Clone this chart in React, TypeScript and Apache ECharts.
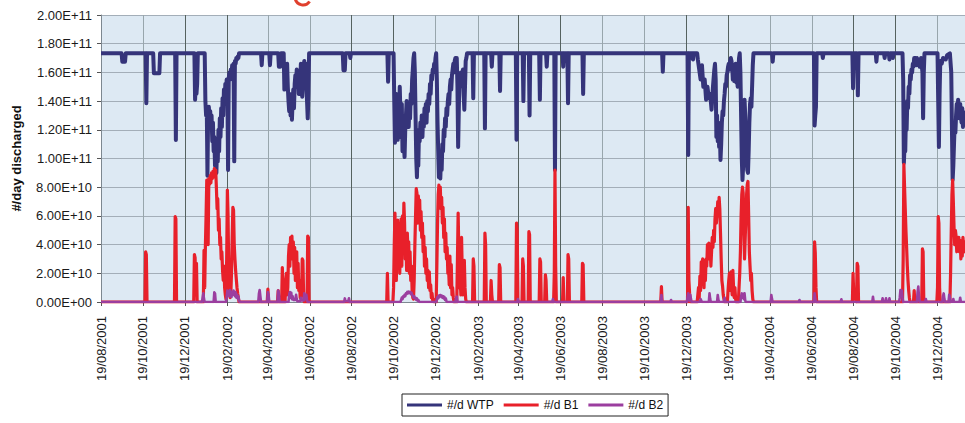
import React, { useEffect, useRef } from "react";
import * as echarts from "echarts";

// Daily discharge record, day 0 = 19/08/2001. Points are [day, #/day].
const START = Date.UTC(2001, 7, 19);
const DAY_MS = 86400000;
const LAST_DAY = 1258;

// Plant capacity plateau of the WTP discharge
const CAP = 1.733e11;

const SERIES_NAMES = ["#/d WTP", "#/d B1", "#/d B2"];

// Axis labels every two months on the 19th
const TICK_DATES: [number, number][] = [
  [2001, 8], [2001, 10], [2001, 12], [2002, 2], [2002, 4], [2002, 6], [2002, 8],
  [2002, 10], [2002, 12], [2003, 2], [2003, 4], [2003, 6], [2003, 8], [2003, 10],
  [2003, 12], [2004, 2], [2004, 4], [2004, 6], [2004, 8], [2004, 10], [2004, 12],
];

const wtp: [number, number][] = [
  [0, CAP], [30, CAP], [31, 1.675e11], [35, 1.675e11], [36, CAP],
  [65, CAP], [66, 1.385e11], [67, CAP],
  [76, CAP], [77, 1.594e11], [85, 1.594e11], [86, CAP],
  [108, CAP], [109, 1.129e11], [110, CAP],
  [136, CAP], [137, 1.41e11], [138, 1.55e11], [139, 1.45e11], [140, 1.52e11], [141, CAP],
  [151, CAP], [152, 1.40e11], [153, 1.30e11], [154, 1.36e11], [155, 0.88e11], [156, 1.32e11],
  [157, 1.36e11], [158, 1.28e11], [159, 1.33e11], [160, 1.22e11], [161, 1.30e11], [162, 1.12e11],
  [163, 1.25e11], [164, 1.05e11], [165, 1.15e11], [166, 0.95e11], [167, 1.08e11], [168, 0.90e11],
  [169, 1.10e11], [170, 0.98e11], [171, 1.20e11], [172, 1.05e11], [173, 1.28e11], [174, 1.15e11],
  [175, 1.35e11], [176, 1.22e11], [177, 1.42e11], [178, 1.30e11], [179, 1.48e11], [180, 1.38e11],
  [181, 1.52e11], [182, 1.45e11], [183, 1.55e11], [184, 1.50e11], [185, 0.92e11], [186, 1.56e11],
  [187, 1.60e11], [188, 1.55e11], [189, 1.62e11], [190, 1.58e11], [191, 1.65e11], [192, 1.60e11],
  [193, 1.66e11], [194, 0.98e11], [195, 1.68e11], [196, 1.66e11], [197, 1.70e11], [198, 1.69e11],
  [199, 1.71e11], [200, 1.70e11], [201, CAP],
  [233, CAP], [234, 1.65e11], [235, CAP],
  [245, CAP], [246, 1.65e11], [247, CAP],
  [258, CAP], [259, 1.64e11], [261, 1.64e11], [262, CAP],
  [266, CAP], [267, 1.48e11], [268, 1.62e11], [269, 1.55e11], [270, 1.63e11], [271, 1.66e11],
  [272, 1.50e11], [273, 1.40e11], [274, 1.33e11], [275, 1.45e11], [276, 1.30e11], [277, 1.36e11],
  [278, 1.27e11], [279, 1.40e11], [280, 1.48e11], [281, 1.35e11], [282, 1.52e11], [283, 1.58e11],
  [284, 1.50e11], [285, 1.62e11], [286, 1.55e11], [287, 1.60e11], [288, 1.45e11], [289, 1.58e11],
  [290, 1.52e11], [291, 1.66e11], [292, 1.62e11], [293, 1.43e11], [294, 1.55e11], [295, 1.64e11],
  [296, 1.68e11], [297, 1.60e11], [298, 1.66e11], [299, 1.50e11], [300, 1.40e11], [301, 1.28e11],
  [302, 1.45e11], [303, CAP],
  [352, CAP], [353, 1.615e11], [355, 1.615e11], [356, CAP],
  [362, CAP], [363, 1.70e11], [364, CAP],
  [417, CAP], [418, 1.535e11], [419, CAP],
  [426, CAP], [427, 1.40e11], [428, 1.11e11], [429, 1.30e11], [430, 1.45e11], [431, 1.20e11],
  [432, 1.13e11], [433, 1.35e11], [434, 1.25e11], [435, 1.50e11], [436, 1.30e11], [437, 1.15e11],
  [438, 1.38e11], [439, 1.05e11], [440, 1.25e11], [441, 1.10e11], [442, 1.01e11], [443, 1.20e11],
  [444, 1.30e11], [445, 1.40e11], [446, 1.25e11], [447, 1.34e11], [448, 1.22e11], [449, 1.35e11],
  [450, 1.28e11], [451, 1.45e11], [452, 1.38e11], [453, 1.55e11], [454, 1.62e11], [455, 1.70e11],
  [456, CAP], [457, 1.60e11], [458, 1.30e11], [459, 1.00e11], [460, 0.87e11], [461, 1.05e11],
  [462, 0.95e11], [463, 1.20e11], [464, 1.12e11], [465, 1.25e11], [466, 1.18e11], [467, 1.30e11],
  [468, 1.15e11], [469, 1.28e11], [470, 1.22e11], [471, 1.35e11], [472, 1.30e11], [473, 1.38e11],
  [474, 1.25e11], [475, 1.40e11], [476, 1.33e11], [477, 1.45e11], [478, 1.38e11], [479, 1.52e11],
  [480, 1.45e11], [481, 1.58e11], [482, 1.55e11], [483, 1.62e11], [484, 1.60e11], [485, 1.66e11],
  [486, 1.64e11], [487, 1.70e11], [488, CAP], [489, 1.55e11], [490, 1.25e11], [491, 1.05e11],
  [492, 0.87e11], [493, 0.90e11], [494, 0.86e11], [495, 1.00e11], [496, 0.92e11], [497, 1.10e11],
  [498, 1.05e11], [499, 1.20e11], [500, 1.15e11], [501, 1.28e11], [502, 1.22e11], [503, 1.35e11],
  [504, 1.30e11], [505, 1.40e11], [506, 1.45e11], [507, 1.38e11], [508, 1.50e11], [509, 1.55e11],
  [510, 1.48e11], [511, 1.58e11], [512, 1.62e11], [513, 1.66e11], [514, 1.60e11], [515, 1.68e11],
  [516, 1.70e11], [517, 1.64e11], [518, 1.70e11], [519, 1.50e11], [520, 1.08e11], [521, 1.35e11],
  [522, 1.55e11], [523, 1.50e11], [524, 1.60e11], [525, 1.52e11], [526, 1.58e11], [527, 1.62e11],
  [528, 1.45e11], [529, 1.34e11], [530, 1.50e11], [531, 1.68e11], [532, 1.70e11], [533, CAP],
  [541, CAP], [542, 1.42e11], [543, CAP],
  [558, CAP], [559, 1.21e11], [560, CAP],
  [568, CAP], [569, 1.64e11], [570, CAP],
  [580, CAP], [581, 1.47e11], [582, CAP],
  [604, CAP], [605, 1.13e11], [606, CAP],
  [614, CAP], [615, 1.40e11], [616, CAP],
  [623, CAP], [624, 1.30e11], [625, CAP],
  [638, CAP], [639, 1.41e11], [640, CAP],
  [648, CAP], [649, 1.64e11], [650, CAP],
  [660, CAP], [661, 0.92e11], [662, CAP],
  [672, CAP], [673, 1.64e11], [674, CAP],
  [679, CAP], [680, 1.385e11], [681, CAP],
  [701, CAP], [702, 1.45e11], [703, CAP],
  [817, CAP], [818, 1.605e11], [819, CAP],
  [854, CAP], [855, 1.024e11], [856, CAP], [857, 1.70e11], [858, CAP],
  [861, CAP], [862, 1.69e11], [863, CAP],
  [868, CAP], [869, 1.69e11], [871, 1.62e11], [873, 1.55e11], [875, 1.65e11], [877, 1.50e11],
  [879, 1.55e11], [881, 1.41e11], [883, 1.50e11], [885, 1.42e11], [887, 1.45e11], [889, 1.34e11],
  [891, 1.50e11], [893, 1.62e11], [894, 1.66e11], [895, 1.55e11], [896, 1.15e11], [897, 1.30e11],
  [898, 1.12e11], [899, 1.25e11], [900, 1.08e11], [901, 1.20e11], [902, 0.99e11], [903, 1.10e11],
  [904, 1.25e11], [905, 1.33e11], [906, 1.30e11], [907, 1.40e11], [908, 1.45e11], [909, 1.52e11],
  [910, 1.50e11], [911, 1.58e11], [912, 1.60e11], [913, 1.64e11], [914, 1.66e11], [915, 1.62e11],
  [916, 1.68e11], [917, 1.70e11], [918, 1.68e11], [919, 1.64e11], [920, 1.55e11], [921, 1.62e11],
  [922, 1.54e11], [923, 1.60e11], [924, 1.66e11], [925, 1.53e11], [926, 1.58e11], [927, 1.50e11],
  [928, 1.62e11], [929, 1.70e11], [930, CAP], [931, 1.60e11], [932, 1.30e11], [933, 1.00e11],
  [934, 0.85e11], [935, 0.95e11], [936, 1.20e11], [937, 1.41e11], [938, 1.30e11], [939, 1.15e11],
  [940, 1.00e11], [941, 0.92e11], [942, 0.90e11], [943, 1.05e11], [944, 1.25e11], [945, 1.38e11],
  [946, 1.42e11], [947, 1.36e11], [948, 1.50e11], [949, 1.65e11], [950, CAP],
  [977, CAP], [978, 1.675e11], [979, CAP],
  [1038, CAP], [1039, 1.23e11], [1040, 1.30e11], [1041, 1.36e11], [1042, CAP],
  [1050, CAP], [1051, 1.70e11], [1052, CAP],
  [1094, CAP], [1095, 1.49e11], [1096, CAP], [1101, CAP], [1102, 1.44e11], [1103, CAP],
  [1128, CAP], [1129, 1.675e11], [1130, CAP], [1140, CAP], [1141, 1.70e11], [1142, CAP],
  [1147, CAP], [1148, 1.69e11], [1149, CAP], [1152, CAP], [1153, 1.70e11], [1154, CAP],
  [1167, CAP], [1168, 1.55e11], [1169, 0.97e11], [1170, 1.10e11], [1171, 1.05e11], [1172, 1.30e11],
  [1173, 1.20e11], [1174, 1.40e11], [1175, 1.35e11], [1176, 1.50e11], [1177, 1.45e11], [1178, 1.58e11],
  [1179, 1.55e11], [1180, 1.62e11], [1181, 1.60e11], [1182, 1.66e11], [1183, 1.64e11], [1184, 1.70e11],
  [1186, 1.70e11], [1187, 1.65e11], [1188, 1.70e11], [1190, 1.68e11], [1192, 1.64e11], [1193, 1.66e11],
  [1194, 1.70e11], [1196, 1.60e11], [1197, 1.28e11], [1198, 1.60e11], [1199, CAP],
  [1218, CAP], [1219, 1.40e11], [1220, 1.08e11], [1221, 1.45e11], [1222, 1.68e11], [1224, 1.66e11],
  [1226, 1.70e11], [1230, 1.69e11], [1232, 1.72e11], [1236, CAP], [1238, 1.60e11], [1239, 1.20e11],
  [1240, 0.85e11], [1241, 0.95e11], [1242, 1.10e11], [1243, 1.25e11], [1244, 1.18e11], [1245, 1.30e11],
  [1246, 1.38e11], [1247, 1.30e11], [1248, 1.41e11], [1249, 1.35e11], [1250, 1.28e11], [1251, 1.38e11],
  [1252, 1.30e11], [1253, 1.25e11], [1254, 1.35e11], [1255, 1.22e11], [1256, 1.30e11], [1257, 1.25e11],
  [1258, 1.32e11], [1260, 1.28e11],
];

const b1: [number, number][] = [
  [0, 0],
  [64, 0], [65, 3.5e10], [66, 3.3e10], [67, 0],
  [107, 0], [108, 5.95e10], [109, 5.8e10], [110, 0],
  [135, 0], [136, 3.3e10], [137, 3.1e10], [138, 0.5e10], [139, 2.7e10], [140, 0],
  [149, 0], [150, 3.6e10], [151, 1.0e10], [152, 3.9e10], [153, 6.0e10], [154, 8.5e10], [155, 8.4e10],
  [156, 4.0e10], [157, 8.6e10], [158, 8.2e10], [159, 8.8e10], [160, 8.3e10], [161, 9.0e10],
  [162, 8.6e10], [163, 9.1e10], [164, 8.7e10], [165, 9.3e10], [166, 8.8e10], [167, 9.2e10],
  [168, 8.0e10], [169, 6.5e10], [170, 7.2e10], [171, 5.0e10], [172, 5.8e10], [173, 4.0e10],
  [174, 4.5e10], [175, 3.0e10], [176, 3.5e10], [177, 2.2e10], [178, 1.5e10], [179, 2.5e10],
  [180, 1.0e10], [181, 0.5e10], [182, 0.2e10], [183, 3.0e10], [184, 7.8e10], [185, 6.0e10],
  [186, 2.0e10], [187, 0.8e10], [188, 0.3e10], [189, 0.5e10], [190, 2.0e10], [191, 4.5e10],
  [192, 6.6e10], [193, 6.4e10], [194, 4.0e10], [195, 3.0e10], [196, 2.2e10], [197, 1.6e10],
  [198, 1.0e10], [199, 0.6e10], [200, 0.3e10], [201, 0],
  [242, 0], [243, 0.9e10], [244, 0],
  [257, 0], [258, 0.8e10], [259, 0],
  [263, 0], [264, 2.4e10], [265, 1.0e10], [266, 0], [268, 0], [269, 1.5e10], [270, 2.0e10],
  [271, 0.5e10], [272, 1.0e10], [273, 3.2e10], [274, 4.0e10], [275, 2.5e10], [276, 4.5e10],
  [277, 3.8e10], [278, 4.6e10], [279, 3.0e10], [280, 4.2e10], [281, 2.0e10], [282, 3.8e10],
  [283, 1.5e10], [284, 2.0e10], [285, 3.5e10], [286, 1.0e10], [287, 2.7e10], [288, 0.8e10],
  [289, 1.5e10], [290, 0.3e10], [292, 0.5e10], [293, 3.0e10], [294, 2.9e10], [295, 0.5e10],
  [296, 0], [300, 0], [301, 4.6e10], [302, 4.5e10], [303, 0],
  [416, 0], [417, 2.0e10], [418, 0],
  [425, 0], [426, 1.0e10], [427, 4.0e10], [428, 6.2e10], [429, 3.0e10], [430, 1.5e10], [431, 4.5e10],
  [432, 5.7e10], [433, 3.5e10], [434, 5.5e10], [435, 2.0e10], [436, 4.0e10], [437, 5.8e10],
  [438, 2.5e10], [439, 6.0e10], [440, 4.0e10], [441, 6.9e10], [442, 5.5e10], [443, 3.0e10],
  [444, 4.2e10], [445, 2.2e10], [446, 4.8e10], [447, 3.5e10], [448, 4.2e10], [449, 2.0e10],
  [450, 3.5e10], [451, 1.5e10], [452, 2.5e10], [453, 0.8e10], [454, 0.3e10], [455, 0.2e10],
  [456, 1.5e10], [457, 4.0e10], [458, 6.0e10], [459, 7.9e10], [460, 7.6e10], [461, 5.5e10],
  [462, 7.4e10], [463, 6.0e10], [464, 7.1e10], [465, 5.0e10], [466, 6.3e10], [467, 4.5e10],
  [468, 5.5e10], [469, 3.5e10], [470, 4.6e10], [471, 2.5e10], [472, 3.8e10], [473, 2.0e10],
  [474, 3.0e10], [475, 1.5e10], [476, 2.2e10], [477, 1.0e10], [478, 2.1e10], [479, 0.8e10],
  [480, 1.2e10], [481, 0.3e10], [482, 0.6e10], [483, 0.1e10], [484, 0.2e10], [485, 0],
  [488, 0], [489, 2.5e10], [490, 5.5e10], [491, 7.5e10], [492, 8.15e10], [493, 7.6e10],
  [494, 8.0e10], [495, 6.5e10], [496, 7.3e10], [497, 5.5e10], [498, 6.6e10], [499, 4.5e10],
  [500, 5.8e10], [501, 3.5e10], [502, 4.8e10], [503, 3.0e10], [504, 3.8e10], [505, 2.0e10],
  [506, 2.5e10], [507, 1.2e10], [508, 3.2e10], [509, 1.0e10], [510, 2.6e10], [511, 0.5e10],
  [512, 1.0e10], [513, 0.3e10], [514, 0],
  [518, 0], [519, 3.0e10], [520, 6.2e10], [521, 3.5e10], [522, 1.0e10], [523, 1.5e10],
  [524, 0.5e10], [525, 4.5e10], [526, 2.0e10], [527, 0.5e10], [528, 1.5e10], [529, 2.9e10],
  [530, 1.0e10], [531, 0.2e10], [532, 0],
  [541, 0], [542, 3.0e10], [543, 2.5e10], [544, 0],
  [558, 0], [559, 4.8e10], [560, 4.0e10], [561, 0],
  [567, 0], [568, 1.5e10], [569, 0.5e10], [570, 0],
  [579, 0], [580, 2.6e10], [581, 2.4e10], [582, 0],
  [604, 0], [605, 5.5e10], [606, 5.0e10], [607, 0],
  [613, 0], [614, 3.0e10], [615, 2.5e10], [616, 0],
  [622, 0], [623, 4.9e10], [624, 4.7e10], [625, 0],
  [638, 0], [639, 3.0e10], [640, 2.8e10], [641, 0],
  [646, 0], [647, 1.9e10], [648, 1.5e10], [649, 0],
  [659, 0], [660, 2.0e10], [661, 9.2e10], [662, 2.5e10], [663, 0],
  [672, 0], [673, 1.7e10], [674, 0],
  [679, 0], [680, 3.3e10], [681, 3.0e10], [682, 0],
  [700, 0], [701, 2.7e10], [702, 2.6e10], [703, 0],
  [815, 0], [816, 1.07e10], [817, 0],
  [854, 0], [855, 6.6e10], [856, 1.5e10], [857, 0.6e10], [858, 0],
  [868, 0], [869, 0.5e10], [870, 1.0e10], [871, 0.3e10], [872, 1.8e10], [873, 0.8e10], [874, 2.8e10],
  [875, 1.5e10], [876, 3.0e10], [877, 2.0e10], [878, 1.0e10], [879, 2.9e10], [880, 1.5e10],
  [881, 3.0e10], [882, 2.5e10], [883, 4.0e10], [884, 3.2e10], [885, 4.1e10], [886, 3.0e10],
  [887, 3.9e10], [888, 2.5e10], [889, 3.5e10], [890, 4.5e10], [891, 3.8e10], [892, 5.0e10],
  [893, 4.2e10], [894, 5.8e10], [895, 6.5e10], [896, 5.5e10], [897, 6.2e10], [898, 7.0e10],
  [899, 6.0e10], [900, 7.3e10], [901, 6.5e10], [902, 4.8e10], [903, 3.0e10], [904, 1.5e10],
  [905, 1.1e10], [906, 0.5e10], [907, 0.2e10], [908, 0],
  [912, 0], [913, 0.8e10], [914, 1.5e10], [915, 2.0e10], [916, 0.8e10], [917, 2.1e10], [918, 1.2e10],
  [919, 0.5e10], [920, 2.2e10], [921, 1.0e10], [922, 0.3e10], [923, 1.0e10], [924, 0.2e10], [925, 0],
  [928, 0], [929, 1.0e10], [930, 2.0e10], [931, 3.5e10], [932, 6.0e10], [933, 7.5e10], [934, 8.0e10],
  [935, 7.6e10], [936, 5.0e10], [937, 3.0e10], [938, 4.5e10], [939, 6.0e10], [940, 7.5e10],
  [941, 8.2e10], [942, 8.4e10], [943, 6.0e10], [944, 3.5e10], [945, 2.5e10], [946, 1.5e10],
  [947, 2.0e10], [948, 0.8e10], [949, 0.2e10], [950, 0],
  [1038, 0], [1039, 4.2e10], [1040, 3.4e10], [1041, 1.0e10], [1042, 0],
  [1094, 0], [1095, 2.0e10], [1096, 0.5e10], [1100, 0], [1101, 2.7e10], [1102, 2.5e10], [1103, 0],
  [1167, 0], [1168, 3.0e10], [1169, 9.6e10], [1170, 8.0e10], [1171, 6.5e10], [1172, 5.0e10],
  [1173, 3.8e10], [1174, 2.5e10], [1175, 1.5e10], [1176, 0.8e10], [1177, 0.3e10], [1178, 0],
  [1183, 0], [1184, 0.8e10], [1185, 0],
  [1195, 0], [1196, 3.7e10], [1197, 3.5e10], [1198, 0],
  [1217, 0], [1218, 1.0e10], [1219, 5.95e10], [1220, 5.5e10], [1221, 1.0e10], [1222, 0],
  [1236, 0], [1237, 2.0e10], [1238, 5.0e10], [1239, 7.5e10], [1240, 8.5e10], [1241, 7.0e10],
  [1242, 5.25e10], [1243, 4.0e10], [1244, 5.0e10], [1245, 4.6e10], [1246, 3.5e10], [1247, 4.3e10],
  [1248, 3.8e10], [1249, 4.5e10], [1250, 3.5e10], [1251, 4.3e10], [1252, 3.0e10], [1253, 4.0e10],
  [1254, 3.2e10], [1255, 4.5e10], [1256, 3.8e10], [1257, 4.2e10], [1258, 3.5e10], [1260, 4.0e10],
];

const b2: [number, number][] = [
  [0, 0],
  [147, 0], [148, 3.0e9], [149, 6.0e9], [150, 2.0e9], [151, 0],
  [164, 0], [165, 6.7e9], [166, 6.0e9], [167, 0],
  [182, 0], [183, 3.0e9], [184, 8.0e9], [185, 5.0e9], [186, 7.5e9], [187, 4.0e9], [188, 8.4e9],
  [189, 6.0e9], [190, 3.5e9], [191, 7.0e9], [192, 5.0e9], [193, 8.0e9], [194, 6.0e9], [195, 4.0e9],
  [196, 7.0e9], [197, 3.0e9], [198, 5.0e9], [199, 2.5e9], [200, 4.0e9], [201, 1.0e9], [202, 0],
  [229, 0], [230, 6.0e9], [231, 8.4e9], [232, 4.0e9], [233, 0],
  [242, 0], [243, 7.0e9], [244, 5.0e9], [245, 0],
  [257, 0], [258, 8.0e9], [259, 6.0e9], [260, 0],
  [273, 0], [274, 5.0e9], [275, 7.0e9], [276, 3.0e9], [277, 6.5e9], [278, 2.0e9], [279, 4.0e9],
  [280, 1.5e9], [283, 1.5e9], [284, 5.0e9], [285, 2.0e9], [286, 0.5e9], [290, 0.5e9], [291, 3.0e9],
  [292, 1.0e9], [295, 1.0e9], [296, 6.0e9], [297, 4.0e9], [298, 2.0e9], [299, 5.0e9], [300, 1.0e9],
  [301, 0],
  [354, 0], [355, 2.5e9], [356, 0.5e9], [360, 0.5e9], [361, 2.6e9], [362, 0],
  [436, 0], [437, 1.5e9], [438, 3.0e9], [439, 2.0e9], [440, 4.0e9], [441, 3.5e9], [442, 5.0e9],
  [443, 4.0e9], [444, 6.0e9], [445, 5.5e9], [446, 7.0e9], [447, 6.0e9], [448, 7.2e9], [449, 6.5e9],
  [450, 7.0e9], [451, 5.5e9], [452, 6.5e9], [453, 5.0e9], [454, 4.5e9], [455, 3.0e9], [456, 4.0e9],
  [457, 2.5e9], [458, 3.0e9], [459, 1.5e9], [460, 2.5e9], [461, 1.0e9], [462, 1.5e9], [463, 0.5e9],
  [464, 0],
  [488, 0], [489, 2.0e9], [490, 3.5e9], [491, 2.5e9], [492, 4.5e9], [493, 3.5e9], [494, 4.9e9],
  [495, 4.0e9], [496, 4.5e9], [497, 3.0e9], [498, 4.0e9], [499, 2.5e9], [500, 3.5e9], [501, 1.5e9],
  [502, 2.5e9], [503, 0.5e9], [504, 0],
  [516, 0], [517, 3.0e9], [518, 3.7e9], [519, 0],
  [606, 0], [607, 2.0e9], [608, 0],
  [657, 0], [658, 2.0e9], [659, 0],
  [815, 0], [816, 4.9e9], [817, 0],
  [829, 0], [830, 1.4e9], [831, 0],
  [853, 0], [854, 3.0e9], [855, 6.0e9], [856, 2.0e9], [857, 1.0e9], [858, 5.0e9], [859, 2.0e9], [860, 0],
  [872, 0], [873, 2.0e9], [874, 1.0e9], [875, 0],
  [885, 0], [886, 6.0e9], [887, 2.0e9], [888, 0],
  [897, 0], [898, 4.9e9], [899, 1.5e9], [900, 0],
  [907, 0], [908, 3.0e9], [909, 0],
  [931, 0], [932, 4.0e9], [933, 6.0e9], [934, 3.0e9], [935, 5.5e9], [936, 2.0e9], [937, 6.0e9],
  [938, 1.0e9], [939, 0],
  [975, 0], [976, 4.9e9], [977, 2.0e9], [978, 0],
  [1016, 0], [1017, 1.4e9], [1018, 0],
  [1038, 0], [1039, 6.0e9], [1040, 2.0e9], [1041, 0],
  [1077, 0], [1078, 1.9e9], [1079, 0],
  [1123, 0], [1124, 3.7e9], [1125, 0],
  [1137, 0], [1138, 2.6e9], [1139, 0], [1142, 0], [1143, 2.6e9], [1144, 0],
  [1147, 0], [1148, 2.6e9], [1149, 0],
  [1162, 0], [1163, 3.0e9], [1164, 8.4e9], [1165, 5.0e9], [1166, 8.0e9], [1167, 3.0e9], [1168, 0],
  [1188, 0], [1189, 7.0e9], [1190, 10.7e9], [1191, 4.0e9], [1192, 0],
  [1200, 0], [1201, 2.0e9], [1202, 0],
  [1225, 0], [1226, 4.0e9], [1227, 6.0e9], [1228, 2.0e9], [1229, 0],
  [1234, 0], [1235, 5.0e9], [1236, 3.0e9], [1237, 0],
  [1240, 0], [1241, 2.0e9], [1242, 0], [1250, 0], [1251, 3.0e9], [1252, 0], [1260, 0],
];

const FONT = "'Liberation Sans', Arial, sans-serif";
const COLORS = ["#35347a", "#e8202a", "#9b3e9f"];

function sci(v: number): string {
  if (v === 0) return "0.00E+00";
  const e = Math.floor(Math.log10(v) + 1e-9);
  const m = v / Math.pow(10, e);
  return m.toFixed(2) + "E+" + String(e).padStart(2, "0");
}

// day index -> dd/mm/yyyy
function dayLabel(day: number): string {
  const d = new Date(START + Math.round(day) * DAY_MS);
  const dd = String(d.getUTCDate()).padStart(2, "0");
  const mm = String(d.getUTCMonth() + 1).padStart(2, "0");
  return `${dd}/${mm}/${d.getUTCFullYear()}`;
}

export default function App() {
  const ref = useRef<HTMLDivElement>(null);

  useEffect(() => {
    if (!ref.current) return;
    const chart = echarts.init(ref.current, undefined, { renderer: "svg" });
    const tickDays = TICK_DATES.map(
      ([y, m]) => Math.round((Date.UTC(y, m - 1, 19) - START) / DAY_MS)
    );

    chart.setOption({
      animation: false,
      backgroundColor: "#ffffff",
      textStyle: { fontFamily: FONT },
      grid: {
        left: 101,
        top: 15,
        right: 0,
        bottom: 121,
        show: true,
        backgroundColor: "#dde9f3",
        borderWidth: 0,
      },
      legend: {
        left: 402,
        top: 394,
        orient: "horizontal",
        data: SERIES_NAMES.map((name) => ({ name, icon: "rect" })),
        itemWidth: 35,
        itemHeight: 3,
        itemGap: 10,
        padding: [5, 5],
        backgroundColor: "#ffffff",
        borderColor: "#222222",
        borderWidth: 1,
        borderRadius: 0,
        textStyle: { fontFamily: FONT, fontSize: 12, color: "#111111" },
      },
      graphic: [
        {
          type: "arc",
          shape: { cx: 303, cy: -3, r: 8, startAngle: 0.6, endAngle: 2.9 },
          style: { stroke: "#e0402e", lineWidth: 3, fill: "none" },
          silent: true,
        },
      ],
      xAxis: {
        type: "value",
        min: 0,
        max: LAST_DAY,
        axisLine: { show: true, lineStyle: { color: "#7d8890", width: 1 } },
        axisTick: {
          show: true,
          customValues: tickDays,
          length: 4,
          lineStyle: { color: "#555555" },
        },
        axisLabel: {
          customValues: tickDays,
          rotate: 90,
          margin: 14,
          fontFamily: FONT,
          fontSize: 13,
          color: "#1a1a1a",
          formatter: (v: number) => dayLabel(v),
        },
        splitLine: {
          show: true,
          lineStyle: {
            color: ["#98a6ac", "#98a6ac", "#55625f", "#55625f"],
            width: 1,
          },
        },
      },
      yAxis: {
        type: "value",
        min: 0,
        max: 2e11,
        interval: 2e10,
        name: "#/day discharged",
        nameLocation: "middle",
        nameRotate: 90,
        nameGap: 78,
        nameTextStyle: {
          fontFamily: FONT,
          fontSize: 13,
          fontWeight: "bold",
          color: "#111111",
        },
        axisLine: { show: true, lineStyle: { color: "#7d8890", width: 1 } },
        axisTick: { show: true, length: 4, lineStyle: { color: "#555555" } },
        axisLabel: {
          margin: 9,
          fontFamily: FONT,
          fontSize: 13,
          color: "#1a1a1a",
          formatter: (v: number) => sci(v),
        },
        splitLine: { show: true, lineStyle: { color: "#a3aeb8", width: 1 } },
      },
      series: [
        {
          name: SERIES_NAMES[0],
          type: "line",
          symbol: "none",
          data: wtp,
          lineStyle: { color: COLORS[0], width: 4, join: "round" },
          itemStyle: { color: COLORS[0] },
        },
        {
          name: SERIES_NAMES[1],
          type: "line",
          symbol: "none",
          data: b1,
          lineStyle: { color: COLORS[1], width: 3.2, join: "round" },
          itemStyle: { color: COLORS[1] },
        },
        {
          name: SERIES_NAMES[2],
          type: "line",
          symbol: "none",
          data: b2,
          lineStyle: { color: COLORS[2], width: 2.6, join: "round" },
          itemStyle: { color: COLORS[2] },
        },
      ],
    });

    return () => chart.dispose();
  }, []);

  return (
    <div
      ref={ref}
      style={{ position: "fixed", left: 0, top: 0, width: 965, height: 423 }}
    />
  );
}
